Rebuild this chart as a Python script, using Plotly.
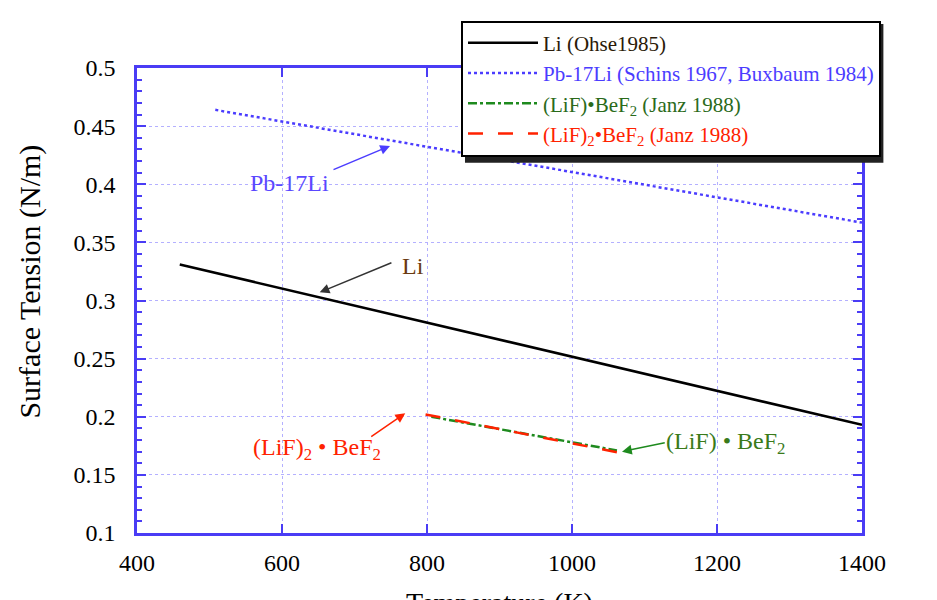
import plotly.graph_objects as go

# ---- data ----
li_T = [459, 1400]
li_sigma = [0.331, 0.193]
pb_T = [508, 1400]
pb_sigma = [0.464, 0.367]
flibe1_T = [806, 1062]          # (LiF)·BeF2
flibe1_sigma = [0.200, 0.171]
flibe2_T = [798, 1066]          # (LiF)2·BeF2
flibe2_sigma = [0.202, 0.169]

x_ticks = [400, 600, 800, 1000, 1200, 1400]
y_ticks = [0.1, 0.15, 0.2, 0.25, 0.3, 0.35, 0.4, 0.45, 0.5]

FONT = "Liberation Serif"
AXC = "#4a3cf5"
BLUE = "#4b3cff"
GREEN = "#1e8a1e"
RED = "#ff2200"

fig = go.Figure()
fig.add_trace(go.Scatter(x=li_T, y=li_sigma, mode="lines",
                         line=dict(color="black", width=2.5),
                         name='<span style="color:#2a1a08">Li (Ohse1985)</span>'))
fig.add_trace(go.Scatter(x=pb_T, y=pb_sigma, mode="lines",
                         line=dict(color=BLUE, width=2.5, dash="dot"),
                         name='<span style="color:#4b3cff">Pb-17Li (Schins 1967, Buxbaum 1984)</span>'))
fig.add_trace(go.Scatter(x=flibe1_T, y=flibe1_sigma, mode="lines",
                         line=dict(color=GREEN, width=2.5, dash="dashdot"),
                         name='<span style="color:#2a6a1a">(LiF)•BeF<sub>2</sub> (Janz 1988)</span>'))
fig.add_trace(go.Scatter(x=flibe2_T, y=flibe2_sigma, mode="lines",
                         line=dict(color=RED, width=2.5, dash="longdash"),
                         name='<span style="color:#ff2200">(LiF)<sub>2</sub>•BeF<sub>2</sub> (Janz 1988)</span>'))

# arrows (tail -> head) and labels
arrows = [
    dict(tail=(669, 0.412), head=(749, 0.433), color=BLUE),
    dict(tail=(753, 0.333), head=(652, 0.307), color="#333333"),
    dict(tail=(721, 0.182), head=(770, 0.203), color=RED),
    dict(tail=(1130, 0.178), head=(1069, 0.170), color=GREEN),
]
for a in arrows:
    fig.add_annotation(x=a["head"][0], y=a["head"][1], ax=a["tail"][0], ay=a["tail"][1],
                       xref="x", yref="y", axref="x", ayref="y", text="",
                       showarrow=True, arrowhead=2, arrowsize=1.3, arrowwidth=1.5,
                       arrowcolor=a["color"])
labels = [
    ("Pb-17Li", 611, 0.401, "#5a48ff"),
    ("Li", 781, 0.330, "#6a3a10"),
    ("(LiF)<sub>2</sub> • BeF<sub>2</sub>", 648, 0.172, RED),
    ("(LiF) • BeF<sub>2</sub>", 1212, 0.177, "#3a7a1a"),
]
for t, x, y, c in labels:
    fig.add_annotation(x=x, y=y, xref="x", yref="y", text=t, showarrow=False,
                       xanchor="center", yanchor="middle",
                       font=dict(family=FONT, size=24, color=c))

# axis titles
fig.add_annotation(x=-0.148, y=0.54, xref="paper", yref="paper",
                   xanchor="center", yanchor="middle",
                   text="Surface Tension (N/m)", textangle=-90, showarrow=False,
                   font=dict(family=FONT, size=30, color="black"))
fig.add_annotation(x=0.5, y=-0.1115, xref="paper", yref="paper",
                   xanchor="center", yanchor="top",
                   text="Temperature (K)", showarrow=False,
                   font=dict(family=FONT, size=28, color="black"))

# legend shadow (offset box behind the legend)
fig.add_shape(type="rect", xref="paper", yref="paper",
              x0=0.4524, x1=1.0295, y0=0.796, y1=1.0946,
              fillcolor="#222222", line=dict(width=0), layer="above")

fig.update_xaxes(range=[400, 1400], tickvals=x_ticks, ticks="inside", ticklen=9,
                 tickwidth=2, tickcolor=AXC, showline=True, linecolor=AXC,
                 linewidth=2.5, mirror="ticks", showgrid=True, gridcolor="#b4b0ff",
                 griddash="dot", gridwidth=1, zeroline=False,
                 tickfont=dict(family=FONT, size=24, color="black"),
                 ticklabelstandoff=6)
fig.update_yaxes(range=[0.1, 0.5], tickvals=y_ticks, ticktext=[str(v) for v in y_ticks],
                 ticks="inside", ticklen=9,
                 tickwidth=2, tickcolor=AXC, showline=True, linecolor=AXC,
                 linewidth=2.5, mirror="ticks", showgrid=True, gridcolor="#b4b0ff",
                 griddash="dot", gridwidth=1, zeroline=False,
                 minor=dict(dtick=0.01, ticks="inside", ticklen=5, tickwidth=1.5,
                            tickcolor=AXC, showgrid=False),
                 tickfont=dict(family=FONT, size=24, color="black"),
                 ticklabelstandoff=14)

fig.update_layout(
    width=929, height=592,
    margin=dict(l=129, r=75, t=60, b=67),
    paper_bgcolor="white", plot_bgcolor="white",
    showlegend=True,
    legend=dict(x=0.4469, y=1.102, xanchor="left", yanchor="top",
                bgcolor="white", bordercolor="black", borderwidth=2,
                font=dict(family=FONT, size=21, color="black"),
                itemwidth=70, tracegroupgap=0),
)

fig.write_html("out.html")
